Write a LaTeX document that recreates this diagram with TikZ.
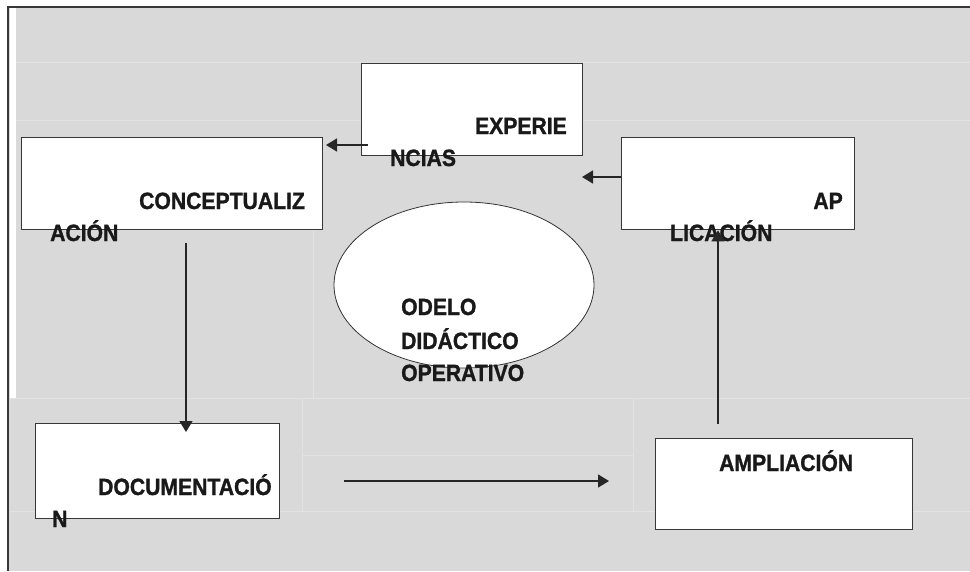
\documentclass[tikz,border=0pt]{standalone}
\usepackage{fontspec}
\setmainfont{Liberation Sans}[FakeStretch=0.9,BoldFeatures={FakeBold=1.2}]
\usepackage{tikz}
\usetikzlibrary{arrows.meta,shapes.geometric}
\definecolor{fondo}{RGB}{217,217,217}
\definecolor{raya}{RGB}{226,226,226}
\definecolor{borde}{RGB}{55,55,55}
\tikzset{
	caja/.style={draw=borde,fill=white,line width=1.3pt,inner sep=0pt,anchor=north west},
	etiq/.style={inner sep=0pt,text=black!90,font=\fontsize{23.5}{28}\selectfont\bfseries},
	flecha/.style={draw=black!85,line width=1.5pt,-{Triangle[length=11pt,width=13pt]}},
	elipse/.style={draw=black!80,fill=white,line width=0.8pt,ellipse,inner sep=0pt}
}

\begin{document}
\begin{tikzpicture}[x=1pt,y=-1pt]
	\useasboundingbox (0,0) rectangle (970,571);
	\fill[white] (0,0) rectangle (970,571);
	\fill[fondo] (8,7) rectangle (970,571);
	\fill[white] (10,8) rectangle (16,398);
	\draw[raya,line width=1pt] (16,62) -- (970,62) (16,120) -- (970,120) (313,229) -- (313,398) (10,398) -- (970,398) (302,398) -- (302,511) (633,398) -- (633,511) (302,455) -- (633,455) (10,511) -- (970,511);
	\draw[borde,line width=1.3pt] (970,7) -- (8,7) -- (8,571);

	\node[caja,minimum width=221pt,minimum height=92pt] (exp) at (361,63) {};
	\node[caja,minimum width=301pt,minimum height=92pt] (concep) at (21,137) {};
	\node[caja,minimum width=233pt,minimum height=92pt] (apl) at (621,137) {};
	\node[caja,minimum width=244pt,minimum height=95pt] (doc) at (35,423) {};
	\node[caja,minimum width=257pt,minimum height=91pt] (amp) at (655,438) {};
	\node[elipse,minimum width=260pt,minimum height=166pt] (modelo) at (464,285) {};

	\node[etiq,anchor=base east] (exptxta) at (567,134) {EXPERIE};
	\node[etiq,anchor=base west] (exptxtb) at (390,166) {NCIAS};
	\node[etiq,anchor=base west] (concetxta) at (139,209) {CONCEPTUALIZ};
	\node[etiq,anchor=base west] (concetxtb) at (50,241) {ACIÓN};
	\node[etiq,anchor=base east] (apltxta) at (843,209) {AP};
	\node[etiq,anchor=base west] (apltxtb) at (670,241) {LICACIÓN};
	\node[etiq,anchor=base west] (doctxta) at (98,495) {DOCUMENTACIÓ};
	\node[etiq,anchor=base west] (doctxtb) at (52,527) {N};
	\node[etiq,anchor=base west] (amptxt) at (719,471) {AMPLIACIÓN};
	\node[etiq,anchor=base west] (modtxta) at (401,315) {ODELO};
	\node[etiq,anchor=base west] (modtxtb) at (401,349) {DIDÁCTICO};
	\node[etiq,anchor=base west] (modtxtc) at (401,381) {OPERATIVO};

	\coordinate (expsal) at (368,145);
	\coordinate (conlleg) at (326,145);
	\coordinate (aplsal) at (582,177);
	\coordinate (consal) at (186,243);
	\coordinate (doclleg) at (186,432);
	\coordinate (docsal) at (344,481);
	\coordinate (amplleg) at (609,481);
	\coordinate (ampsal) at (718,424);

	\draw[flecha] (expsal) -- (conlleg);
	\draw[flecha] (apl.west |- aplsal) -- (aplsal);
	\draw[flecha] (consal) -- (doclleg);
	\draw[flecha] (docsal) -- (amplleg);
	\draw[flecha] (ampsal) -- (ampsal |- apl.south);
\end{tikzpicture}
\end{document}
